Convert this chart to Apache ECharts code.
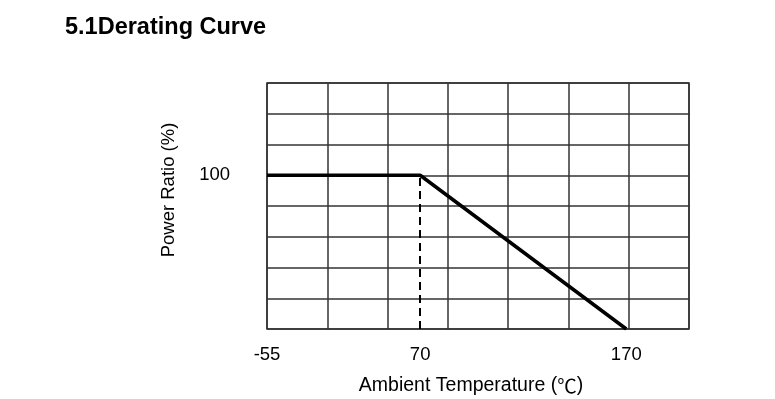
<!DOCTYPE html>
<html>
<head>
<meta charset="utf-8">
<title>Derating Curve</title>
<script src="https://cdn.jsdelivr.net/npm/echarts@6/dist/echarts.min.js"></script>
<style>
  html, body { margin: 0; padding: 0; background: #fff; }
  #main { width: 775px; height: 399px; }
</style>
</head>
<body>
<div id="main"></div>
<script>
// derating curve: temperature (°C) vs power ratio (%)
var temps = [-55, 70, 170];
var powerRatio = [100, 100, 0];

// tick labels on the temperature axis and where they sit on the 7-column grid
var tempTicks = [-55, 70, 170];
var tickCols = [0, 2.54, 5.96];
var ratioTicks = [100];

// the drawing is not to scale, so place temperatures between the labelled ticks
function toCol(t) {
    for (var i = 0; i < tempTicks.length - 1; i++) {
        if (t <= tempTicks[i + 1]) {
            var f = (t - tempTicks[i]) / (tempTicks[i + 1] - tempTicks[i]);
            return tickCols[i] + f * (tickCols[i + 1] - tickCols[i]);
        }
    }
    return tickCols[tickCols.length - 1];
}

var lineData = temps.map(function (t, i) {
    return [toCol(t), powerRatio[i]];
});
var kneeTemp = 70;

var gridColor = '#333';
var font = 'Liberation Sans, Arial, sans-serif';

var chart = echarts.init(document.getElementById('main'), null, { renderer: 'canvas' });
var option = {
    animation: false,
    backgroundColor: '#fff',
    title: {
        text: '5.1Derating Curve',
        left: 60,
        top: 11,
        textStyle: { fontFamily: font, fontSize: 23.5, fontWeight: 'bold', color: '#000' }
    },
    grid: {
        left: 267, top: 83, width: 422, height: 246,
        show: true, borderColor: gridColor, borderWidth: 1.5
    },
    xAxis: {
        type: 'value',
        min: 0, max: 7, interval: 1,
        axisLine: { show: false },
        axisTick: { show: false },
        splitLine: { show: true, lineStyle: { color: gridColor, width: 1.5 } },
        axisLabel: {
            customValues: tickCols,
            margin: 16,
            fontFamily: font, fontSize: 18.5, color: '#000',
            formatter: function (v) {
                var idx = tickCols.indexOf(v);
                return idx >= 0 ? String(tempTicks[idx]) : '';
            }
        }
    },
    yAxis: {
        type: 'value',
        min: 0, max: 160, interval: 20,
        axisLine: { show: false },
        axisTick: { show: false },
        splitLine: { show: true, lineStyle: { color: gridColor, width: 1.5 } },
        axisLabel: {
            customValues: ratioTicks,
            margin: 37,
            fontFamily: font, fontSize: 18.5, color: '#000'
        }
    },
    graphic: [{
        type: 'text',
        x: 169, y: 190,
        rotation: Math.PI / 2,
        style: {
            text: 'Power Ratio (%)',
            fill: '#000',
            font: '18.5px ' + font,
            textAlign: 'center',
            textVerticalAlign: 'middle'
        }
    }, {
        type: 'text',
        x: 471, y: 386,
        style: {
            text: 'Ambient Temperature ({c|℃})',
            fill: '#000',
            font: '19.5px ' + font,
            textAlign: 'center',
            textVerticalAlign: 'middle',
            rich: {
                c: { fontFamily: 'Noto Sans CJK SC', fontSize: 19.5, fill: '#000' }
            }
        }
    }],
    series: [{
        type: 'line',
        data: lineData,
        symbol: 'none',
        lineStyle: { color: '#000', width: 3.5 },
        markLine: {
            silent: true,
            symbol: 'none',
            label: { show: false },
            lineStyle: { color: '#000', width: 2, type: [8, 5] },
            data: [[
                { coord: [toCol(kneeTemp), 0] },
                { coord: [toCol(kneeTemp), powerRatio[1]] }
            ]]
        }
    }]
};
chart.setOption(option);
</script>
</body>
</html>
